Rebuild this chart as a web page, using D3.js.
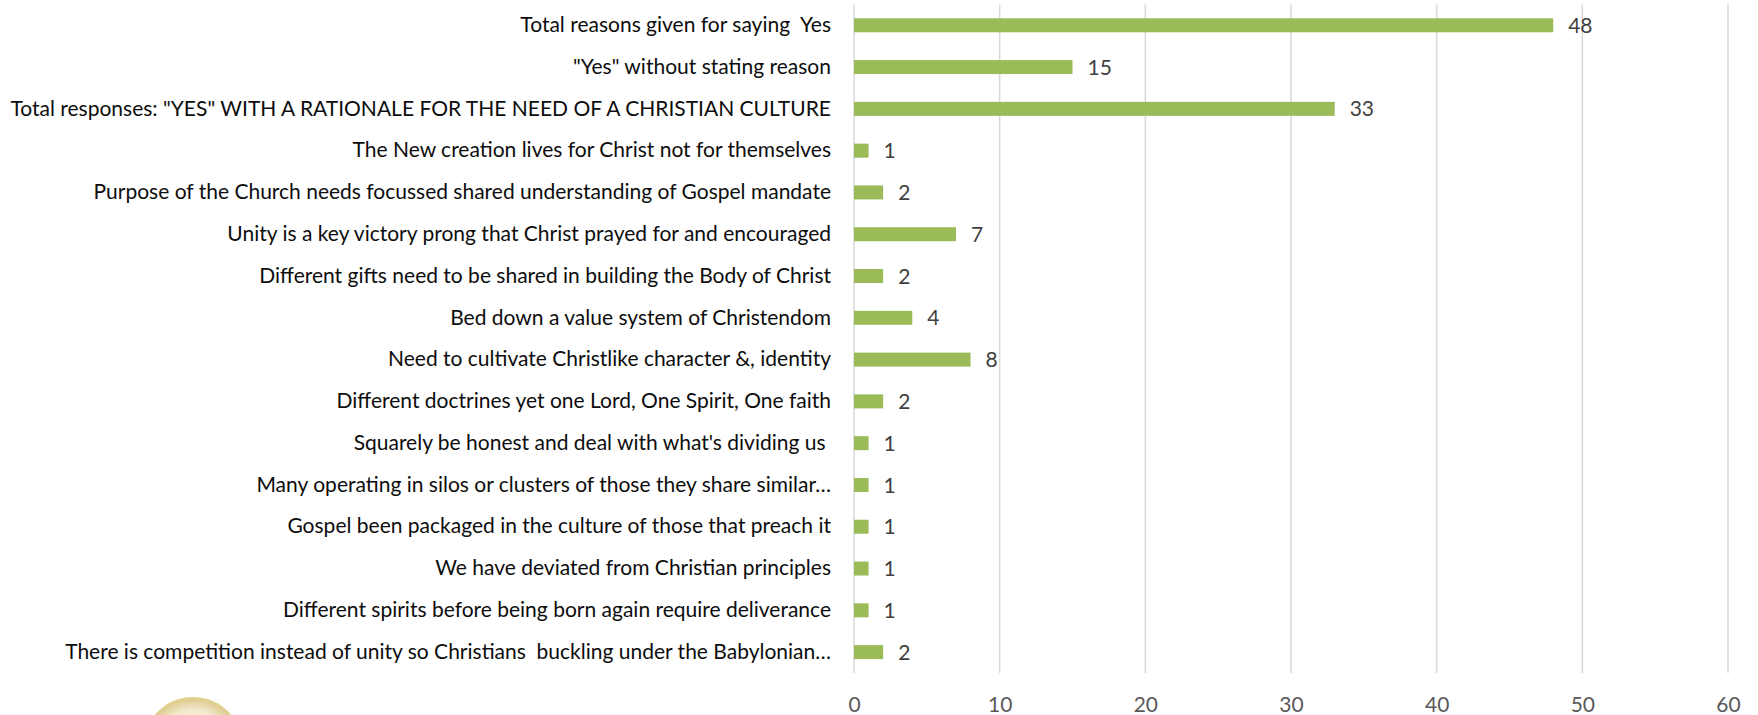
<!DOCTYPE html>
<html>
<head>
<meta charset="utf-8">
<script src="https://cdn.jsdelivr.net/npm/d3@7"></script>
<style>
  body { margin: 0; background: #fff; }
  svg { display: block; }
</style>
</head>
<body>
<svg width="1758" height="715"></svg>
<script>
// data, top to bottom as drawn
const categories = [
  "Total reasons given for saying  Yes",
  "\"Yes\" without stating reason",
  "Total responses: \"YES\" WITH A RATIONALE FOR THE NEED OF A CHRISTIAN CULTURE",
  "The New creation lives for Christ not for themselves",
  "Purpose of the Church needs focussed shared understanding of Gospel mandate",
  "Unity is a key victory prong that Christ prayed for and encouraged",
  "Different gifts need to be shared in building the Body of Christ",
  "Bed down a value system of Christendom",
  "Need to cultivate Christlike character &, identity",
  "Different doctrines yet one Lord, One Spirit, One faith",
  "Squarely be honest and deal with what's dividing us ",
  "Many operating in silos or clusters of those they share similar\u2026",
  "Gospel been packaged in the culture of those that preach it",
  "We have deviated from Christian principles",
  "Different spirits before being born again require deliverance",
  "There is competition instead of unity so Christians  buckling under the Babylonian\u2026"
];
const values = [48, 15, 33, 1, 2, 7, 2, 4, 8, 2, 1, 1, 1, 1, 1, 2];
const xTicks = [0, 10, 20, 30, 40, 50, 60];

const width = 1758, height = 715;
let margin = {top: 4.4, right: 30, bottom: 42, left: 854};

const svg = d3.select('svg')

// faint gold seal peeking in at the bottom left
const defs = svg.append("defs");
const grad = defs.append("radialGradient").attr("id", "gold")
    .attr("cx", "50%").attr("cy", "50%").attr("r", "50%");
grad.append("stop").attr("offset", "0%").attr("stop-color", "#fdfbf0");
grad.append("stop").attr("offset", "75%").attr("stop-color", "#f3ead0");
grad.append("stop").attr("offset", "100%").attr("stop-color", "#dcc98a");
svg.append("circle")
    .attr("cx", 193).attr("cy", 747).attr("r", 49)
    .attr("fill", "url(#gold)")
    .attr("stroke", "#e2d290")
    .attr("stroke-width", 2);

let x = d3.scaleLinear()
    .domain([0, 60])
    .range([margin.left, width - margin.right])

let y = d3.scaleBand()
    .domain(categories)
    .range([margin.top, height - margin.bottom])
    .paddingInner(0.665)
    .paddingOuter(0.3325)

// gridlines
svg.append("g")
    .selectAll("line")
    .data(xTicks)
    .join("line")
        .attr("x1", d => x(d))
        .attr("x2", d => x(d))
        .attr("y1", margin.top)
        .attr("y2", height - margin.bottom)
        .attr("stroke", "#d9d9d9")
        .attr("stroke-width", 1.5)

// x axis labels
const xAxis = svg.append("g")
    .attr("transform", `translate(0, ${height - margin.bottom + 24})`)
    .call(d3.axisBottom(x).tickValues(xTicks).tickSize(0).tickPadding(0))
xAxis.select(".domain").remove()
xAxis.selectAll("text")
    .attr("font-family", "Lato, sans-serif")
    .attr("font-size", "21px")
    .attr("fill", "#595959")

// y axis labels
const yAxis = svg.append("g")
    .attr("transform", `translate(${margin.left}, 0)`)
    .call(d3.axisLeft(y).tickSize(0).tickPadding(23))
yAxis.select(".domain").remove()
yAxis.selectAll("text")
    .attr("font-family", "Lato, sans-serif")
    .attr("font-size", "21px")
    .attr("fill", "#0d0d0d")
    .style("white-space", "pre")

// bars
svg.append("g")
    .selectAll("rect")
    .data(values)
    .join("rect")
        .attr("x", x(0))
        .attr("y", (d, i) => y(categories[i]))
        .attr("width", d => x(d) - x(0))
        .attr("height", y.bandwidth())
        .attr("fill", "#9bbb59")

// value labels
svg.append("g")
    .selectAll("text")
    .data(values)
    .join("text")
        .attr("x", d => x(d) + 15)
        .attr("y", (d, i) => y(categories[i]) + y.bandwidth() / 2)
        .attr("dy", "0.36em")
        .attr("font-family", "Lato, sans-serif")
        .attr("font-size", "21px")
        .attr("fill", "#404040")
        .text(d => d)
</script>
</body>
</html>
